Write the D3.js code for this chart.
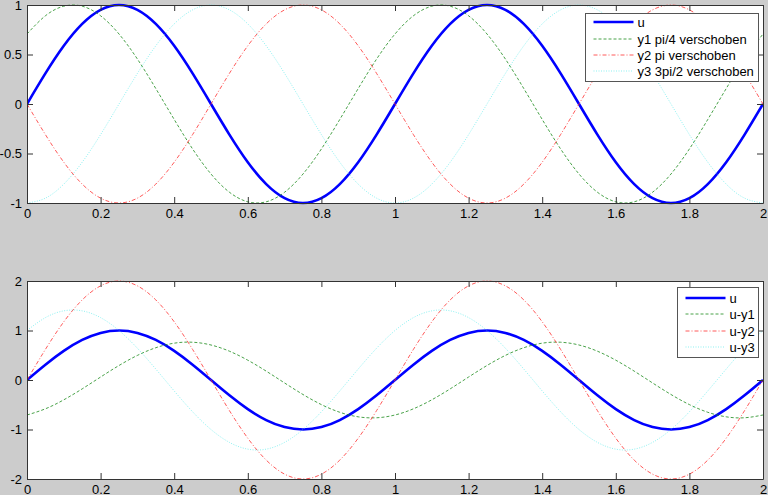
<!DOCTYPE html>
<html><head><meta charset="utf-8">
<script src="https://cdn.jsdelivr.net/npm/d3@7"></script>
<style>
html,body{margin:0;padding:0;background:#cccccc;}
svg{display:block;}
svg text{font-family:"Liberation Sans",Arial,sans-serif !important;font-size:13px !important;fill:#000;}
</style></head>
<body><svg id="c" width="768" height="495"></svg>
<script>
// sample times 0:0.05:2
const t = d3.range(41).map(i => i / 20);
const xTicks = [0, 0.2, 0.4, 0.6, 0.8, 1, 1.2, 1.4, 1.6, 1.8, 2];
const yTicksTop = [-1, -0.5, 0, 0.5, 1];
const yTicksBottom = [-2, -1, 0, 1, 2];

const u  = [0,0.309,0.588,0.809,0.951,1,0.951,0.809,0.588,0.309,0,-0.309,-0.588,-0.809,-0.951,-1,-0.951,-0.809,-0.588,-0.309,
            0,0.309,0.588,0.809,0.951,1,0.951,0.809,0.588,0.309,0,-0.309,-0.588,-0.809,-0.951,-1,-0.951,-0.809,-0.588,-0.309,0];
const y1 = [0.707,0.891,0.988,0.988,0.891,0.707,0.454,0.156,-0.156,-0.454,-0.707,-0.891,-0.988,-0.988,-0.891,-0.707,-0.454,-0.156,0.156,0.454,
            0.707,0.891,0.988,0.988,0.891,0.707,0.454,0.156,-0.156,-0.454,-0.707,-0.891,-0.988,-0.988,-0.891,-0.707,-0.454,-0.156,0.156,0.454,0.707];
const y2 = [0,-0.309,-0.588,-0.809,-0.951,-1,-0.951,-0.809,-0.588,-0.309,0,0.309,0.588,0.809,0.951,1,0.951,0.809,0.588,0.309,
            0,-0.309,-0.588,-0.809,-0.951,-1,-0.951,-0.809,-0.588,-0.309,0,0.309,0.588,0.809,0.951,1,0.951,0.809,0.588,0.309,0];
const y3 = [-1,-0.951,-0.809,-0.588,-0.309,0,0.309,0.588,0.809,0.951,1,0.951,0.809,0.588,0.309,0,-0.309,-0.588,-0.809,-0.951,
            -1,-0.951,-0.809,-0.588,-0.309,0,0.309,0.588,0.809,0.951,1,0.951,0.809,0.588,0.309,0,-0.309,-0.588,-0.809,-0.951,-1];
const uy1 = [-0.707,-0.582,-0.400,-0.179,0.060,0.293,0.497,0.652,0.744,0.763,0.707,0.582,0.400,0.179,-0.060,-0.293,-0.497,-0.652,-0.744,-0.763,
             -0.707,-0.582,-0.400,-0.179,0.060,0.293,0.497,0.652,0.744,0.763,0.707,0.582,0.400,0.179,-0.060,-0.293,-0.497,-0.652,-0.744,-0.763,-0.707];
const uy2 = [0,0.618,1.176,1.618,1.902,2,1.902,1.618,1.176,0.618,0,-0.618,-1.176,-1.618,-1.902,-2,-1.902,-1.618,-1.176,-0.618,
             0,0.618,1.176,1.618,1.902,2,1.902,1.618,1.176,0.618,0,-0.618,-1.176,-1.618,-1.902,-2,-1.902,-1.618,-1.176,-0.618,0];
const uy3 = [1,1.260,1.397,1.397,1.260,1,0.642,0.221,-0.221,-0.642,-1,-1.260,-1.397,-1.397,-1.260,-1,-0.642,-0.221,0.221,0.642,
             1,1.260,1.397,1.397,1.260,1,0.642,0.221,-0.221,-0.642,-1,-1.260,-1.397,-1.397,-1.260,-1,-0.642,-0.221,0.221,0.642,1];

const topLabels = ["u", "y1 pi/4 verschoben", "y2 pi verschoben", "y3 3pi/2 verschoben"];
const bottomLabels = ["u", "u-y1", "u-y2", "u-y3"];

const styles = [
  {color: "#0000ff", width: 2.6, dash: null},
  {color: "#1a8a1a", width: 0.8, dash: "3,2"},
  {color: "#ff3030", width: 0.8, dash: "4,2,1,2"},
  {color: "#40e8e8", width: 0.6, dash: "1,1.5"}
];

const svg = d3.select("#c");
const axisColor = "#333";

function panel(top, bottom, yDomain, yTicks, series, labels, legendBox, legendRows) {
  const x = d3.scaleLinear().domain([0, 2]).range([27, 763]);
  const y = d3.scaleLinear().domain(yDomain).range([bottom, top]);
  const g = svg.append("g");
  g.append("rect").attr("x", 27).attr("y", top).attr("width", 736).attr("height", bottom - top).attr("fill", "#fff");

  const line = d3.line().x((d, i) => x(t[i])).y(d => y(d)).curve(d3.curveNatural);
  const clipId = "clip" + top;
  g.append("clipPath").attr("id", clipId).append("rect")
    .attr("x", 27).attr("y", top - 2).attr("width", 736).attr("height", bottom - top + 4);
  series.forEach((s, k) => {
    const st = styles[k];
    g.append("path").attr("d", line(s)).attr("fill", "none")
      .attr("stroke", st.color).attr("stroke-width", st.width)
      .attr("stroke-dasharray", st.dash).attr("clip-path", `url(#${clipId})`);
  });

  const fmt = d => (d === 0 ? "0" : String(d));
  const ax = d3.axisBottom(x).tickValues(xTicks).tickFormat(fmt).tickSizeInner(-6).tickSizeOuter(0).tickPadding(6);
  const gx = g.append("g").attr("transform", `translate(0,${bottom})`).call(ax);
  const axT = d3.axisTop(x).tickValues(xTicks).tickFormat("").tickSizeInner(-6).tickSizeOuter(0);
  const gxt = g.append("g").attr("transform", `translate(0,${top})`).call(axT);
  const ay = d3.axisLeft(y).tickValues(yTicks).tickFormat(fmt).tickSizeInner(-6).tickSizeOuter(0).tickPadding(5);
  const gy = g.append("g").attr("transform", `translate(27,0)`).call(ay);
  const ayr = d3.axisRight(y).tickValues(yTicks).tickFormat("").tickSizeInner(-6).tickSizeOuter(0);
  const gyr = g.append("g").attr("transform", `translate(763,0)`).call(ayr);
  [gx, gxt, gy, gyr].forEach(a => {
    a.attr("font-size", null).attr("font-family", null);
    a.select(".domain").attr("stroke", axisColor);
    a.selectAll(".tick line").attr("stroke", axisColor);
  });

  const lg = g.append("g");
  lg.append("rect").attr("x", legendBox[0]).attr("y", legendBox[1])
    .attr("width", legendBox[2] - legendBox[0]).attr("height", legendBox[3] - legendBox[1])
    .attr("fill", "#fff").attr("stroke", "#555").attr("stroke-width", 1);
  labels.forEach((lab, k) => {
    const st = styles[k];
    const ry = legendRows[k];
    lg.append("line").attr("x1", legendBox[0] + 8).attr("x2", legendBox[0] + 48)
      .attr("y1", ry).attr("y2", ry).attr("stroke", st.color).attr("stroke-width", st.width)
      .attr("stroke-dasharray", st.dash);
    lg.append("text").attr("x", legendBox[0] + 52).attr("y", ry + 4.5).text(lab);
  });
}

panel(5, 203, [-1, 1], yTicksTop, [u, y1, y2, y3], topLabels,
      [585.5, 13.5, 758.5, 81.5], [22, 39, 55, 71]);
panel(281, 479, [-2, 2], yTicksBottom, [u, uy1, uy2, uy3], bottomLabels,
      [677.5, 287.5, 758.5, 357.5], [298, 314, 331, 347]);
</script>
</body></html>
